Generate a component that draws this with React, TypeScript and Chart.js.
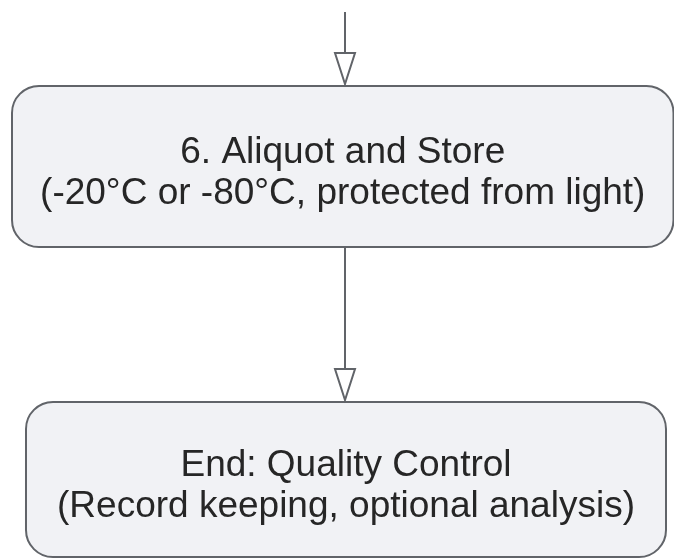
import React, { useEffect, useRef } from "react";
import { Chart, registerables } from "chart.js";

Chart.register(...registerables);

// Node texts (two lines each)
const nodeTitles = ["6. Aliquot and Store", "End: Quality Control"];
const nodeSubtitles = ["(-20°C or -80°C, protected from light)", "(Record keeping, optional analysis)"];
// Node extents in diagram units
const nodeLeft = [12, 26];
const nodeRight = [673.5, 666];
const nodeTop = [86, 402];
const nodeBottom = [247, 557];
// Edges (vertical connectors)
const edgeX = [345, 345];
const edgeFromY = [12, 247];
const edgeToY = [84, 400];

const BORDER = "#616469";
const FILL = "#f1f2f5";
const TEXT = "#262626";
const FONT = '37px "Liberation Sans", Arial, sans-serif';

const flowPlugin = {
  id: "flowNodes",
  beforeDatasetsDraw(chart: any) {
    const { ctx, scales } = chart;
    const xs = scales.x, ys = scales.y;
    ctx.save();
    for (let i = 0; i < nodeTitles.length; i++) {
      const l = xs.getPixelForValue(nodeLeft[i]);
      const r = xs.getPixelForValue(nodeRight[i]);
      const t = ys.getPixelForValue(nodeTop[i]);
      const b = ys.getPixelForValue(nodeBottom[i]);
      ctx.beginPath();
      ctx.roundRect(l, t, r - l, b - t, 27);
      ctx.fillStyle = FILL;
      ctx.fill();
      ctx.lineWidth = 2;
      ctx.strokeStyle = BORDER;
      ctx.stroke();
      const cx = (l + r) / 2;
      const cy = (t + b) / 2;
      ctx.fillStyle = TEXT;
      ctx.font = FONT;
      ctx.textAlign = "center";
      ctx.textBaseline = "alphabetic";
      ctx.fillText(nodeTitles[i], cx, cy - 4);
      ctx.fillText(nodeSubtitles[i], cx, cy + 37);
    }
    ctx.restore();
  },
  afterDatasetsDraw(chart: any) {
    const { ctx, scales } = chart;
    const xs = scales.x, ys = scales.y;
    ctx.save();
    for (let i = 0; i < edgeX.length; i++) {
      const x = xs.getPixelForValue(edgeX[i]);
      const tip = ys.getPixelForValue(edgeToY[i]);
      const base = tip - 31;
      ctx.beginPath();
      ctx.moveTo(x - 10, base);
      ctx.lineTo(x + 10, base);
      ctx.lineTo(x, tip);
      ctx.closePath();
      ctx.fillStyle = "#ffffff";
      ctx.fill();
      ctx.lineWidth = 2;
      ctx.lineJoin = "miter";
      ctx.strokeStyle = BORDER;
      ctx.stroke();
    }
    ctx.restore();
  },
};

export default function App() {
  const ref = useRef<HTMLCanvasElement>(null);
  useEffect(() => {
    if (!ref.current) return;
    const datasets = edgeX.map((x, i) => ({
      data: [
        { x, y: edgeFromY[i] },
        { x, y: edgeToY[i] - 30 },
      ],
      showLine: true,
      borderColor: BORDER,
      borderWidth: 2,
      pointRadius: 0,
      fill: false,
    }));
    const chart = new Chart(ref.current, {
      type: "scatter",
      data: { datasets },
      options: {
        animation: false,
        responsive: false,
        devicePixelRatio: 1,
        layout: { padding: 0 },
        plugins: { legend: { display: false }, tooltip: { enabled: false } },
        scales: {
          x: { type: "linear", min: 0, max: 674, display: false },
          y: { type: "linear", min: 0, max: 559, reverse: true, display: false },
        },
      },
      plugins: [flowPlugin],
    });
    return () => chart.destroy();
  }, []);
  return (
    <div style={{ position: "fixed", left: 0, top: 0, width: 674, height: 559, background: "#fff" }}>
      <canvas ref={ref} width={674} height={559} />
    </div>
  );
}
